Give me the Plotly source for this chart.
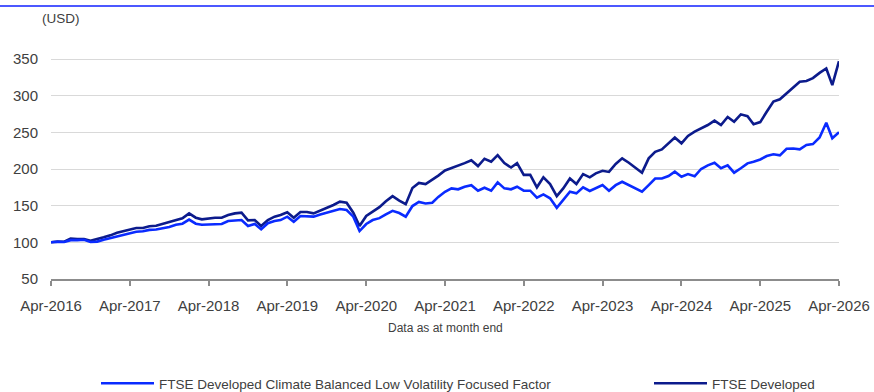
import pandas as pd
import plotly.graph_objects as go

# Monthly index levels (USD), Apr-2016 .. Apr-2026
months = pd.date_range("2016-04-01", "2026-04-01", freq="MS")

climate_low_vol = [
    100, 100.8, 100.5, 103, 103, 103.6, 100.5, 101, 103.6,
    106, 108.6, 110.4, 113, 114.5, 115, 117, 117.5, 119, 121, 124, 125.4,
    131, 125.4, 124, 124.5, 125, 125, 129, 130, 130.4, 122.2, 125, 117.7,
    126, 129, 130.4, 135, 128, 135.9, 135.9, 135, 138, 140.4, 142.7, 145.4,
    144, 135, 115.4, 125, 130.4, 133, 138, 143, 140, 135, 149.5, 155,
    153, 154, 162, 169, 173.6, 172.3, 175.8, 178, 170.4, 174.5, 170.4, 181.8,
    173.6, 172.3, 175.8, 170.4, 170.4, 161, 165.4, 160, 147, 157.7, 169, 166.8,
    175, 170, 173.6, 178, 170.4, 178, 182.6, 178, 172.7, 169, 178, 187,
    187, 190.4, 196.3, 189.5, 193, 190, 200, 205, 208.5, 201, 205, 195,
    201, 207.7, 210, 213, 217.7, 220, 218.6, 227.6, 228, 226.8, 232.7, 234,
    243, 263, 242, 250,
]

developed = [
    100, 101, 100.8, 105, 104.5, 104.5, 102, 104, 106.8,
    109.5, 113, 115, 117, 119.5, 119.5, 122, 122.7, 125.4, 128, 130.4, 132.7,
    139.5, 133.6, 131.4, 133, 133.6, 133.6, 137.2, 139.5, 140.4, 130, 130.4, 122.2,
    130.4, 135, 137.2, 140.9, 133.6, 141.3, 141.3, 139.5, 143, 147.2, 150.9, 155.4,
    154, 140.4, 122.2, 135.9, 141.7, 148, 156, 163, 157, 152, 174, 181,
    179.5, 185, 191, 198, 201, 204.5, 208, 212, 204, 214, 210, 219,
    208, 202, 208, 192, 192, 175, 188.6, 179.5, 163, 173.6, 187, 179.5,
    193, 188.6, 194, 197.6, 196, 206.8, 214.5, 208.5, 201, 195, 214.5, 223.5,
    226.8, 235.8, 243, 235, 245, 251, 255, 260, 266, 260, 271, 264.5,
    274.5, 272, 261, 264, 278, 292, 295, 303, 311, 319, 320, 324,
    331, 337, 314.5, 347,
]

tick_years = list(range(2016, 2027))
tick_labels = [f"Apr-{y}" for y in tick_years]
tick_dates = [f"{y}-04-01" for y in tick_years]
y_ticks = [50, 100, 150, 200, 250, 300, 350]

names = ["FTSE Developed Climate Balanced Low Volatility Focused Factor", "FTSE Developed"]
colors = ["#0A2BFF", "#0C1B8C"]

W, H = 874, 392
L, R, T, B = 51, 35, 56, 113
plot_w = W - L - R
plot_h = H - T - B

fig = go.Figure()
fig.add_trace(go.Scatter(
    x=months, y=developed, mode="lines", name=names[1],
    line=dict(color=colors[1], width=2.6), legend="legend2",
))
fig.add_trace(go.Scatter(
    x=months, y=climate_low_vol, mode="lines", name=names[0],
    line=dict(color=colors[0], width=2.6), legend="legend",
))

font_family = "Liberation Sans, Arial, sans-serif"
text_col = "#404040"

legend_top_px = 368


def legend_at(px_left):
    return dict(
        orientation="h",
        x=(px_left - L) / plot_w, xanchor="left",
        y=(H - B - legend_top_px) / plot_h, yanchor="top",
        font=dict(size=13.5, color=text_col, family=font_family),
        itemwidth=53,
        bgcolor="rgba(0,0,0,0)", borderwidth=0,
    )


fig.update_layout(
    width=W, height=H,
    margin=dict(l=L, r=R, t=T, b=B, autoexpand=False),
    paper_bgcolor="white", plot_bgcolor="white",
    font=dict(family=font_family, color=text_col),
    showlegend=True,
    legend=legend_at(96),
    legend2=legend_at(649),
    xaxis=dict(
        type="date",
        range=["2016-04-01", "2026-04-01"],
        tickvals=tick_dates, ticktext=tick_labels,
        showgrid=False, zeroline=False,
        showline=True, linecolor="#8c8c8c", linewidth=1.5,
        ticks="outside", ticklen=5, tickcolor="#8c8c8c", tickwidth=1.5,
        tickfont=dict(size=15, color=text_col),
        ticklabelstandoff=7,
    ),
    yaxis=dict(
        range=[50, 50 + plot_h / (220 / 300)],
        tickvals=y_ticks,
        showgrid=True, gridcolor="#d9d9d9", gridwidth=1.3,
        zeroline=False, showline=False, ticks="",
        tickfont=dict(size=15, color=text_col),
        ticklabelstandoff=12,
    ),
    shapes=[dict(
        type="line", xref="paper", yref="paper",
        x0=-L / plot_w, x1=(W - L) / plot_w,
        y0=(H - B - 6) / plot_h, y1=(H - B - 6) / plot_h,
        line=dict(color="#1020FF", width=1.5),
    )],
    annotations=[
        dict(text="(USD)", xref="paper", yref="paper",
             x=(61 - L) / plot_w, y=(H - B - 19) / plot_h,
             xanchor="center", yanchor="middle", showarrow=False,
             font=dict(size=13.5, color=text_col)),
        dict(text="Data as at month end", xref="paper", yref="paper",
             x=0.5, y=(H - B - 328) / plot_h,
             xanchor="center", yanchor="middle", showarrow=False,
             font=dict(size=12, color=text_col)),
    ],
)

fig.write_html("out.html")
